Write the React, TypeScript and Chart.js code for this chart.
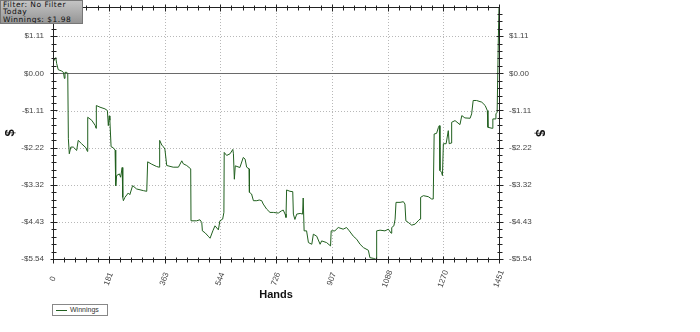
import React, { useEffect, useRef } from "react";
import { Chart, registerables } from "chart.js";

Chart.register(...registerables);

// Hands played (x) and cumulative winnings in $ (y)
const hands = [
  0, 1, 9, 12, 17, 28, 34, 37, 39, 45, 48, 50, 53, 58, 66, 77, 82, 93, 107, 112,
  113, 126, 137, 140, 141, 153, 169, 177, 180, 183, 185, 189, 196, 202, 204, 207, 216, 220, 225, 227,
  229, 234, 245, 250, 259, 272, 294, 305, 308, 321, 337, 345, 347, 354, 359, 364, 370, 391, 408, 419,
  424, 435, 448, 449, 467, 478, 484, 486, 495, 505, 511, 520, 527, 538, 543, 552, 556, 557, 565, 576,
  585, 587, 590, 593, 608, 619, 625, 630, 638, 639, 646, 652, 663, 671, 679, 684, 695, 706, 717, 733,
  744, 749, 755, 758, 760, 771, 780, 782, 787, 793, 804, 812, 814, 817, 825, 831, 842, 847, 858, 869,
  874, 890, 903, 905, 917, 928, 944, 955, 964, 977, 988, 999, 1010, 1026, 1031, 1042, 1051, 1053, 1064, 1080,
  1091, 1100, 1102, 1109, 1113, 1116, 1129, 1140, 1145, 1148, 1156, 1167, 1178, 1188, 1194, 1196, 1205, 1221, 1232, 1237,
  1240, 1248, 1254, 1257, 1259, 1264, 1267, 1270, 1279, 1286, 1289, 1295, 1297, 1308, 1324, 1330, 1340, 1357, 1362, 1367,
  1378, 1395, 1406, 1413, 1415, 1429, 1431, 1438, 1441, 1445, 1449, 1451,
];
const winnings = [
  0.29, 0.35, 0.47, 0.29, 0.11, 0.07, 0.03, -0.15, 0.03, 0.03, 0.0, -1.95, -2.4, -2.2, -2.2, -2.3, -2.0, -2.1, -2.22, -2.33,
  -1.31, -1.4, -1.55, -1.64, -0.96, -1.01, -1.06, -1.11, -1.56, -1.27, -1.4, -2.19, -2.22, -2.29, -3.35, -3.05, -3.0, -3.1, -2.81, -3.7,
  -3.8, -3.7, -3.57, -3.62, -3.35, -3.45, -3.5, -3.52, -2.64, -2.71, -2.78, -2.8, -2.0, -2.14, -2.19, -2.26, -2.75, -2.8, -2.8, -2.61,
  -2.7, -2.75, -2.85, -4.4, -4.4, -4.37, -4.45, -4.7, -4.76, -4.86, -4.92, -4.7, -4.55, -4.67, -4.4, -4.35, -4.15, -2.36, -2.45, -2.4,
  -2.27, -2.4, -3.16, -2.76, -2.81, -2.51, -2.56, -2.8, -2.85, -3.55, -3.6, -3.8, -3.8, -3.78, -3.8, -3.9, -4.05, -4.15, -4.15, -4.17,
  -4.1, -4.08, -4.2, -4.3, -3.48, -3.52, -3.53, -4.2, -4.36, -4.2, -4.18, -4.2, -3.72, -4.7, -4.7, -5.05, -5.1, -4.8, -4.86, -5.1,
  -5.0, -5.05, -5.15, -4.7, -4.7, -4.6, -4.65, -4.6, -4.7, -4.86, -4.95, -5.1, -5.2, -5.28, -5.5, -5.52, -5.55, -4.7, -4.68, -4.7,
  -4.65, -4.77, -4.6, -4.55, -4.35, -3.85, -3.85, -3.83, -3.9, -4.4, -4.45, -4.53, -4.5, -4.4, -4.35, -3.7, -3.65, -3.68, -3.75, -3.75,
  -1.81, -1.79, -1.61, -1.56, -2.9, -2.95, -3.05, -2.1, -2.1, -1.71, -2.1, -2.08, -1.46, -1.41, -1.53, -1.26, -1.33, -1.34, -1.21, -0.81,
  -0.81, -0.86, -0.96, -1.11, -1.61, -1.64, -1.36, -1.36, -1.21, -1.16, 1.09, 1.98,
];

const xTickLabels = ["0", "181", "363", "544", "726", "907", "1088", "1270", "1451"];
const yTickValues = [-5.54, -4.43, -3.32, -2.22, -1.11, 0, 1.11];
const X_MAX = 1451;
const Y_MIN = -5.54;
const Y_MAX = 1.98;

const fmtMoney = (v: number) => {
  if (Math.abs(v) < 1e-9) return "$0.00";
  return (v < 0 ? "-$" : "$") + Math.abs(v).toFixed(2);
};

const decorPlugin = {
  id: "decor",
  beforeDatasetsDraw(chart: any) {
    const { ctx, chartArea: a, scales } = chart;
    const xs = scales.x;
    const ys = scales.y;
    ctx.save();
    ctx.strokeStyle = "#b8b8b8";
    ctx.lineWidth = 1;
    ctx.setLineDash([1, 2]);
    xTickLabels.forEach((_, i) => {
      const px = Math.round(xs.getPixelForValue((i * X_MAX) / 8)) + 0.5;
      if (i === 0 || i === 8) return;
      ctx.beginPath();
      ctx.moveTo(px, a.top);
      ctx.lineTo(px, a.bottom);
      ctx.stroke();
    });
    yTickValues.forEach((v) => {
      if (v === 0 || v === Y_MIN) return;
      const py = Math.round(ys.getPixelForValue(v)) + 0.5;
      ctx.beginPath();
      ctx.moveTo(a.left, py);
      ctx.lineTo(a.right, py);
      ctx.stroke();
    });
    ctx.setLineDash([]);
    ctx.strokeStyle = "#6a6a6a";
    const pz = Math.round(ys.getPixelForValue(0)) + 0.5;
    ctx.beginPath();
    ctx.moveTo(a.left, pz);
    ctx.lineTo(a.right, pz);
    ctx.stroke();
    ctx.restore();
  },
  afterDatasetsDraw(chart: any) {
    const { ctx, chartArea: a, scales } = chart;
    const xs = scales.x;
    const ys = scales.y;
    ctx.save();
    ctx.strokeStyle = "#222";
    ctx.lineWidth = 1;
    const L = Math.round(a.left) + 0.5;
    const R = Math.round(a.right) + 0.5;
    const T = Math.round(a.top) + 0.5;
    const B = Math.round(a.bottom) + 0.5;
    ctx.beginPath();
    ctx.moveTo(L, T); ctx.lineTo(R, T);
    ctx.moveTo(L, B); ctx.lineTo(R, B);
    ctx.moveTo(L, T); ctx.lineTo(L, B);
    ctx.moveTo(R, T); ctx.lineTo(R, B);
    ctx.stroke();

    // x ticks (major + minor), top and bottom
    ctx.beginPath();
    for (let k = 0; k <= 40; k++) {
      const px = Math.round(xs.getPixelForValue((k * X_MAX) / 40)) + 0.5;
      const len = k % 5 === 0 ? 3 : 2;
      ctx.moveTo(px, B - len); ctx.lineTo(px, B + len + 1);
      ctx.moveTo(px, T - len); ctx.lineTo(px, T + len + 1);
    }
    // y ticks, left and right
    const step = 1.108 / 5;
    for (let k = 0; k <= 40; k++) {
      const v = Y_MIN + k * step;
      if (v > Y_MAX + 1e-6) break;
      const py = Math.round(ys.getPixelForValue(v)) + 0.5;
      const len = k % 5 === 0 ? 3 : 2;
      ctx.moveTo(L - len, py); ctx.lineTo(L + len + 1, py);
      ctx.moveTo(R - len, py); ctx.lineTo(R + len + 1, py);
    }
    ctx.stroke();

    // x tick labels (rotated)
    ctx.fillStyle = "#444";
    ctx.font = "8px 'Liberation Sans', Arial, sans-serif";
    ctx.textAlign = "center";
    ctx.textBaseline = "middle";
    xTickLabels.forEach((lab, i) => {
      const px = xs.getPixelForValue((i * X_MAX) / 8);
      ctx.save();
      ctx.translate(px, 279);
      ctx.rotate((-70 * Math.PI) / 180);
      ctx.fillText(lab, 0, 0);
      ctx.restore();
    });

    // axis titles
    ctx.fillStyle = "#111";
    ctx.font = "bold 11px 'Liberation Sans', Arial, sans-serif";
    ctx.fillText("Hands", 276, 295);
    ctx.font = "bold 13px 'Liberation Sans', Arial, sans-serif";
    ctx.save();
    ctx.translate(10, 133);
    ctx.rotate(-Math.PI / 2);
    ctx.fillText("$", 0, 0);
    ctx.restore();
    ctx.save();
    ctx.translate(540, 133);
    ctx.rotate(Math.PI / 2);
    ctx.fillText("$", 0, 0);
    ctx.restore();
    ctx.restore();
  },
};

const fitY = (w: number) => (s: any) => {
  s.width = w;
  s.paddingTop = 0;
  s.paddingBottom = 0;
};

export default function App() {
  const ref = useRef<HTMLCanvasElement | null>(null);
  useEffect(() => {
    if (!ref.current) return;
    const tickFont = { size: 8, family: "'Liberation Sans', Arial, sans-serif" };
    const chart = new Chart(ref.current, {
      type: "line",
      data: {
        datasets: [
          {
            label: "Winnings",
            data: hands.map((h, i) => ({ x: h, y: winnings[i] })),
            borderColor: "#21601f",
            borderWidth: 1,
            pointRadius: 0,
            tension: 0,
            fill: false,
          },
        ],
      },
      options: {
        animation: false,
        responsive: false,
        devicePixelRatio: 1,
        layout: { padding: { top: 7, left: 0, right: 0, bottom: 0 } },
        plugins: { legend: { display: false }, tooltip: { enabled: false } },
        scales: {
          x: {
            type: "linear",
            min: 0,
            max: X_MAX,
            grid: { display: false, drawTicks: false },
            border: { display: false },
            ticks: { display: false },
            afterFit: (s: any) => { s.height = 73; s.paddingLeft = 0; s.paddingRight = 0; },
          },
          y: {
            position: "left",
            min: Y_MIN,
            max: Y_MAX,
            grid: { display: false, drawTicks: false },
            border: { display: false },
            afterBuildTicks: (s: any) => { s.ticks = yTickValues.map((v) => ({ value: v })); },
            ticks: { font: tickFont, color: "#444", padding: 9, callback: (v: any) => fmtMoney(Number(v)) },
            afterFit: fitY(53),
          },
          y2: {
            position: "right",
            min: Y_MIN,
            max: Y_MAX,
            grid: { display: false, drawTicks: false },
            border: { display: false },
            afterBuildTicks: (s: any) => { s.ticks = yTickValues.map((v) => ({ value: v })); },
            ticks: { font: tickFont, color: "#444", padding: 10, callback: (v: any) => fmtMoney(Number(v)) },
            afterFit: fitY(201),
          },
        },
      },
      plugins: [decorPlugin],
    } as any);
    return () => chart.destroy();
  }, []);

  return (
    <div style={{ position: "fixed", left: 0, top: 0, width: 700, height: 332, background: "#fff" }}>
      <canvas ref={ref} width={700} height={332} style={{ position: "absolute", left: 0, top: 0, width: 700, height: 332 }} />
      <div
        style={{
          position: "absolute", left: 0, top: 0, width: 83, height: 24,
          background: "linear-gradient(to bottom, #c4c4c4, #959595)",
          border: "1px solid #777", boxSizing: "border-box",
          fontFamily: "'DejaVu Sans', sans-serif", fontSize: 7.5, lineHeight: "7.3px",
          letterSpacing: "0.5px",
          color: "#111", padding: "0 2px", whiteSpace: "nowrap", overflow: "hidden",
        }}
      >
        <div>Filter: No Filter</div>
        <div>Today</div>
        <div>Winnings: $1.98</div>
      </div>
      <div
        style={{
          position: "absolute", left: 52, top: 304, width: 54, height: 10,
          border: "1px solid #888", background: "#fff",
          fontFamily: "'Liberation Sans', Arial, sans-serif", fontSize: 7, color: "#333",
        }}
      >
        <div style={{ position: "absolute", left: 3, top: 5, width: 11, height: 1, background: "#21601f" }} />
        <div style={{ position: "absolute", left: 17, top: 1, lineHeight: "8px" }}>Winnings</div>
      </div>
    </div>
  );
}
